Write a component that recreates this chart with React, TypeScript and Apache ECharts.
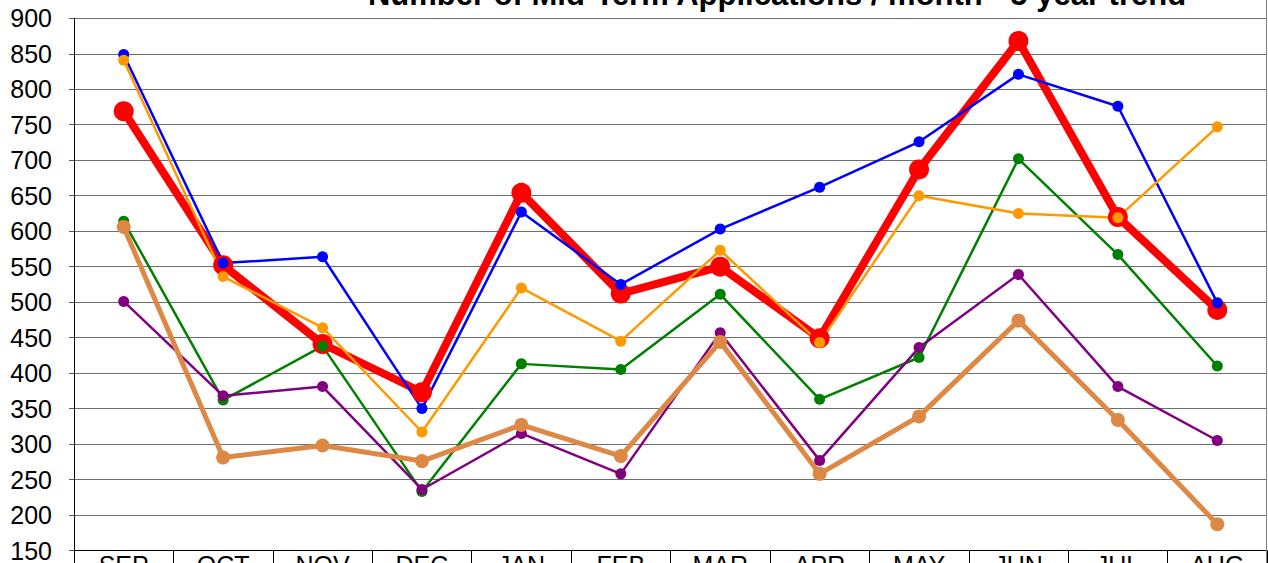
import React, { useEffect, useRef } from "react";
import * as echarts from "echarts";

const months = ["SEP", "OCT", "NOV", "DEC", "JAN", "FEB", "MAR", "APR", "MAY", "JUN", "JUL", "AUG"];
const titleText = "Number of Mid-Term Applications / month - 5 year trend";

const redSeries = [769, 552, 441, 373, 654, 512, 550, 449, 687, 868, 620, 489];
const greenSeries = [614, 362, 438, 233, 413, 405, 511, 363, 422, 702, 567, 410];
const purpleSeries = [501, 368, 381, 236, 315, 258, 457, 277, 436, 539, 381, 305];
const tanSeries = [606, 281, 298, 276, 327, 283, 444, 258, 339, 474, 334, 187];
const blueSeries = [849, 555, 564, 350, 627, 525, 603, 662, 726, 821, 776, 499];
const orangeSeries = [841, 536, 464, 317, 520, 445, 573, 443, 650, 625, 619, 747];

const FONT = "'Liberation Sans', Arial, sans-serif";

export default function App() {
  const ref = useRef<HTMLDivElement>(null);
  useEffect(() => {
    if (!ref.current) return;
    const chart = echarts.init(ref.current, undefined, { renderer: "svg" });
    const mk = (name: string, data: number[], color: string, width: number, size: number) => ({
      name,
      type: "line",
      data,
      color,
      symbol: "circle",
      symbolSize: size,
      lineStyle: { color, width },
      itemStyle: { color },
      emphasis: { disabled: true },
    });
    chart.setOption({
      animation: false,
      backgroundColor: "#fff",
      textStyle: { fontFamily: FONT },
      grid: {
        left: 74,
        right: 1,
        top: 18.3,
        bottom: 12.5,
        containLabel: false,
        outerBoundsMode: "none",
      },
      xAxis: {
        type: "category",
        data: months,
        boundaryGap: true,
        axisLine: { show: true, lineStyle: { color: "#000", width: 1 } },
        axisTick: { show: true, length: 16, lineStyle: { color: "#000", width: 1 } },
        axisLabel: { color: "#000", fontSize: 25, fontFamily: FONT, margin: 2 },
        splitLine: { show: false },
      },
      yAxis: {
        type: "value",
        min: 150,
        max: 900,
        interval: 50,
        axisLine: { show: true, lineStyle: { color: "#000", width: 1 } },
        axisTick: { show: true, length: 5, lineStyle: { color: "#555" } },
        axisLabel: { color: "#000", fontSize: 25, fontFamily: FONT, margin: 22 },
        splitLine: { show: true, lineStyle: { color: "#6e6e6e", width: 1 } },
      },
      graphic: [
        {
          type: "text",
          x: 777,
          y: 10,
          style: {
            text: titleText,
            fontSize: 31,
            fontWeight: "bold",
            fontFamily: FONT,
            fill: "#000",
            align: "center",
            verticalAlign: "bottom",
          },
          z: 100,
        },
        {
          type: "line",
          shape: { x1: 1266.5, y1: 0, x2: 1266.5, y2: 563 },
          style: { stroke: "#808080", lineWidth: 1 },
          z: 100,
        },
      ],
      series: [
        mk("Current", redSeries, "#ff0000", 8, 20),
        mk("Year 4", greenSeries, "#008000", 2.5, 11),
        mk("Year 3", purpleSeries, "#800080", 2.5, 11),
        mk("Year 2", tanSeries, "#dd8844", 5, 14),
        mk("Year 5", blueSeries, "#0000ff", 2.5, 11),
        mk("Year 1", orangeSeries, "#ff9900", 2.5, 11),
      ],
    });
    return () => chart.dispose();
  }, []);
  return (
    <div
      ref={ref}
      style={{ position: "fixed", left: 0, top: 0, width: 1268, height: 563, background: "#fff" }}
    />
  );
}
